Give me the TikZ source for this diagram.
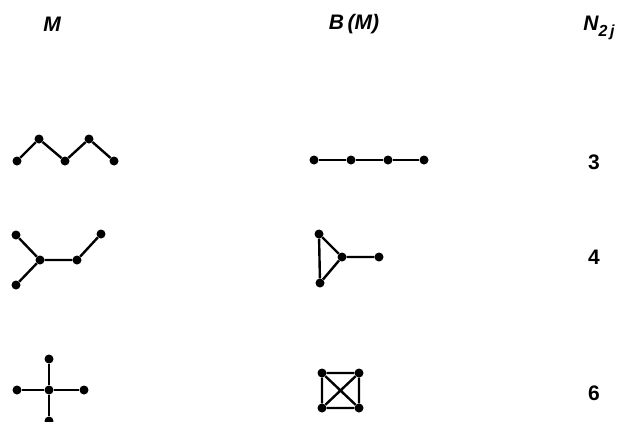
\documentclass[tikz,border=0pt]{standalone}
\usepackage{fontspec}
\setmainfont{Liberation Sans}
\begin{document}
\begin{tikzpicture}[x=1pt,y=-1pt,
  vtx/.style={circle,fill,inner sep=0pt,minimum size=9pt},
  edg/.style={line width=2.4pt},
  lab/.style={font=\fontsize{21}{24}\selectfont\bfseries}]
\useasboundingbox (0,0) rectangle (619,421);
% column heads
\node[lab] (headM) at (52,24) {\itshape M};
\node[lab] (headB) at (354,24) {\itshape B\,(M)};
\node[lab] (headN) at (599,28) {\itshape N\raisebox{-6pt}{\fontsize{16}{18}\selectfont 2\,j}};
% M: path
\node[vtx] (a1) at (17,161) {};
\node[vtx] (a2) at (39,139) {};
\node[vtx] (a3) at (65,161) {};
\node[vtx] (a4) at (89,139) {};
\node[vtx] (a5) at (114,161) {};
\draw[edg] (a1) -- (a2) -- (a3) -- (a4) -- (a5);
% M: branched tree
\node[vtx] (b1) at (16,235) {};
\node[vtx] (b2) at (40,260) {};
\node[vtx] (b3) at (77,260) {};
\node[vtx] (b4) at (101,234) {};
\node[vtx] (b5) at (16,285) {};
\draw[edg] (b1) -- (b2) -- (b3) -- (b4) (b2) -- (b5);
% M: star
\node[vtx] (c0) at (49,390) {};
\node[vtx] (c1) at (49,359) {};
\node[vtx] (c2) at (17,390) {};
\node[vtx] (c3) at (84,390) {};
\node[vtx] (c4) at (49,421) {};
\foreach \i in {1,...,4} \draw[edg] (c0) -- (c\i);
% B(M): path
\node[vtx] (p1) at (314,160) {};
\node[vtx] (p2) at (351,160) {};
\node[vtx] (p3) at (388,160) {};
\node[vtx] (p4) at (424,160) {};
\draw[edg] (p1) -- (p2) -- (p3) -- (p4);
% B(M): triangle with tail
\node[vtx] (q1) at (319,234) {};
\node[vtx] (q2) at (342,257) {};
\node[vtx] (q3) at (379,257) {};
\node[vtx] (q4) at (320,283) {};
\draw[edg] (q1) -- (q2) -- (q4) -- (q1) (q2) -- (q3);
% B(M): complete graph
\node[vtx] (k1) at (322,373) {};
\node[vtx] (k2) at (359,373) {};
\node[vtx] (k3) at (359,408) {};
\node[vtx] (k4) at (322,408) {};
\draw[edg] (k1) -- (k2) -- (k3) -- (k4) -- (k1) -- (k3) (k2) -- (k4);
% N_2j
\node[lab] (n1) at (594,162) {3};
\node[lab] (n2) at (594,257) {4};
\node[lab] (n3) at (594,393) {6};
\end{tikzpicture}
\end{document}
